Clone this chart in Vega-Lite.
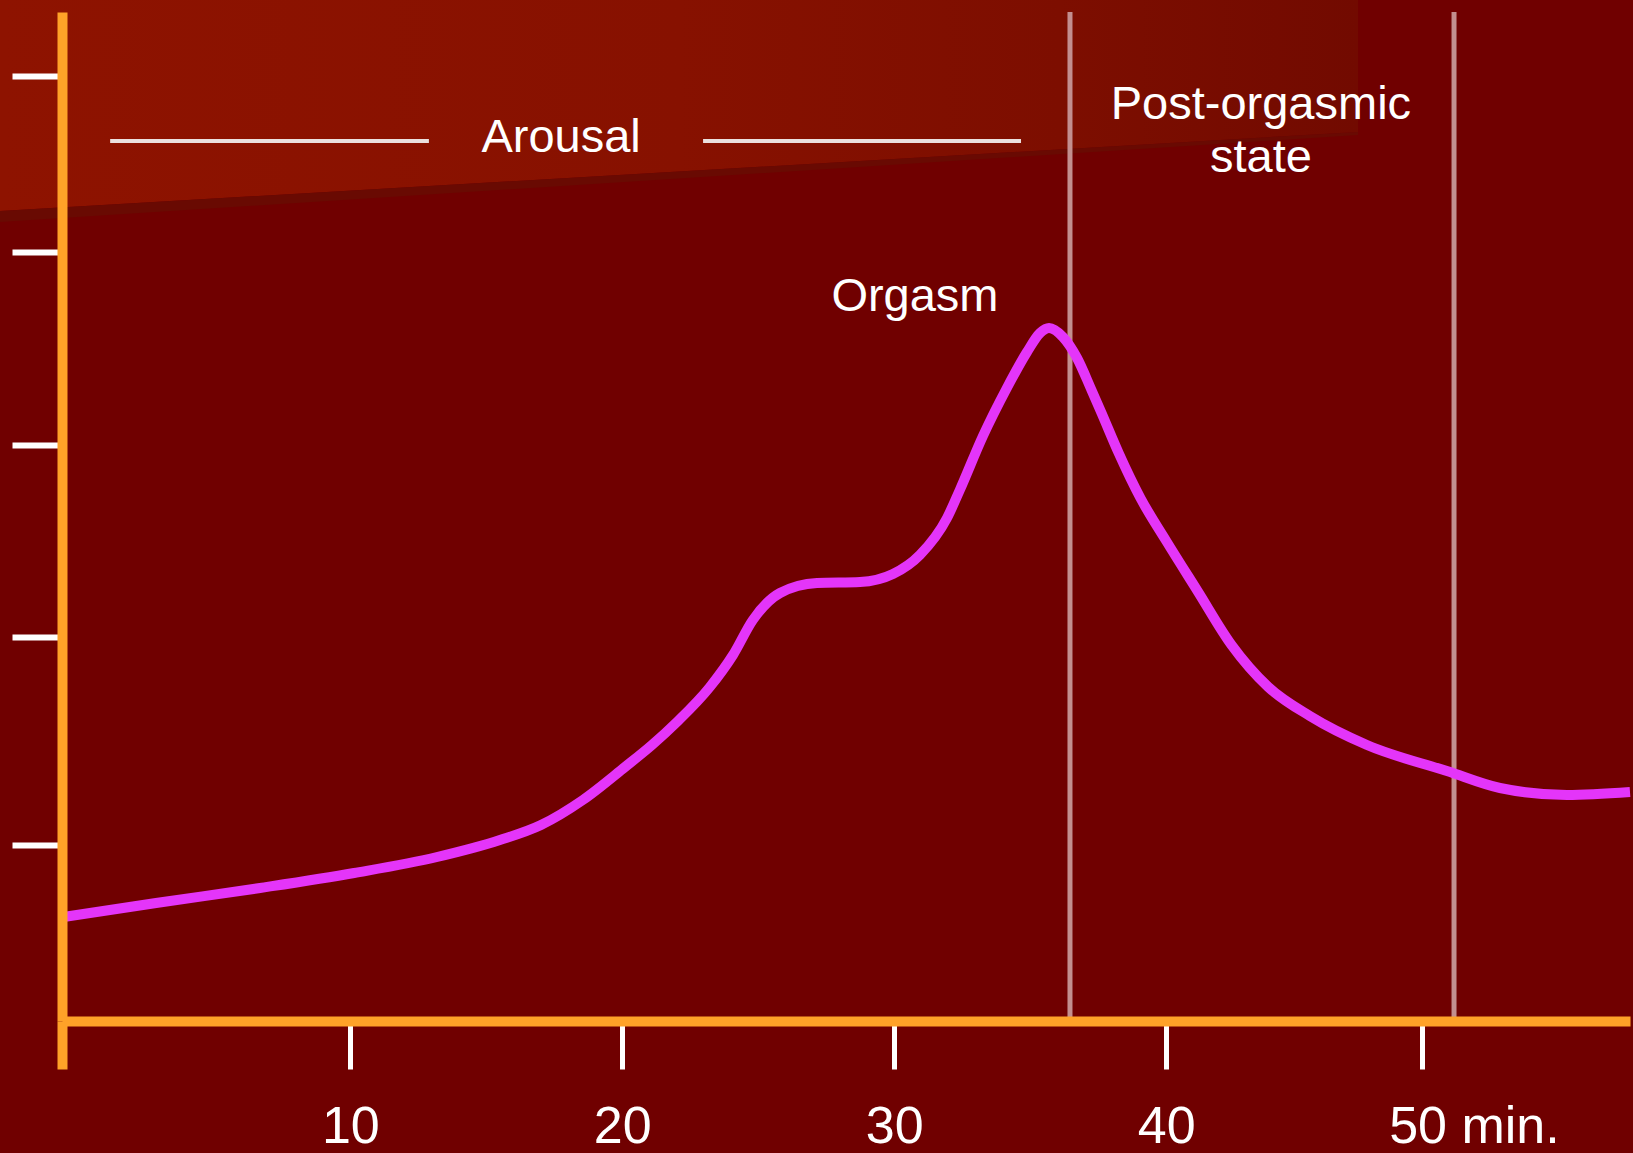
{
  "$schema": "https://vega.github.io/schema/vega-lite/v6.json",
  "width": 1568,
  "height": 1009,
  "autosize": {"type": "none"},
  "padding": {"left": 62, "top": 12, "right": 3, "bottom": 132},
  "background": "#700000",
  "view": {"stroke": null},
  "config": {"font": "Liberation Sans"},
  "datasets": {
    "band": [
      {"t": -2.88, "v": 102.2, "v2": 81.0},
      {"t": 47.05, "v": 102.2, "v2": 88.9}
    ],
    "shadow": [
      {"t": -2.88, "v": 81.0, "v2": 79.9},
      {"t": 47.05, "v": 88.9, "v2": 88.6}
    ],
    "phases": [
      {"t": 36.46, "v": 0, "v2": 100.9},
      {"t": 50.58, "v": 0, "v2": 100.9}
    ],
    "arousalLines": [
      {"t": 1.17, "t2": 12.89, "v": 88.0},
      {"t": 22.97, "t2": 34.66, "v": 88.0}
    ],
    "curve": [
      {"t": -0.53, "v": 10.4},
      {"t": 2.86, "v": 11.8},
      {"t": 6.68, "v": 13.3},
      {"t": 10.14, "v": 14.8},
      {"t": 13.19, "v": 16.4},
      {"t": 15.50, "v": 18.1},
      {"t": 17.01, "v": 19.6},
      {"t": 18.55, "v": 22.1},
      {"t": 20.10, "v": 25.4},
      {"t": 21.09, "v": 27.6},
      {"t": 22.01, "v": 29.9},
      {"t": 23.22, "v": 33.4},
      {"t": 24.07, "v": 36.6},
      {"t": 24.80, "v": 40.1},
      {"t": 25.80, "v": 42.8},
      {"t": 27.16, "v": 43.8},
      {"t": 28.74, "v": 43.9},
      {"t": 29.95, "v": 44.7},
      {"t": 30.94, "v": 46.6},
      {"t": 31.94, "v": 50.3},
      {"t": 32.41, "v": 53.1},
      {"t": 33.26, "v": 58.5},
      {"t": 34.14, "v": 63.3},
      {"t": 34.88, "v": 66.9},
      {"t": 35.36, "v": 68.8},
      {"t": 35.69, "v": 69.3},
      {"t": 36.20, "v": 68.4},
      {"t": 36.72, "v": 66.3},
      {"t": 37.25, "v": 63.1},
      {"t": 37.62, "v": 60.8},
      {"t": 38.25, "v": 56.8},
      {"t": 39.05, "v": 52.3},
      {"t": 40.00, "v": 48.0},
      {"t": 41.15, "v": 43.0},
      {"t": 42.40, "v": 37.6},
      {"t": 43.75, "v": 33.4},
      {"t": 45.28, "v": 30.5},
      {"t": 47.38, "v": 27.6},
      {"t": 50.32, "v": 25.0},
      {"t": 52.27, "v": 23.3},
      {"t": 54.73, "v": 22.6},
      {"t": 57.05, "v": 22.9}
    ],
    "labels": [
      {"t": 17.75, "v": 86.9, "text": "Arousal"},
      {"t": 43.48, "v": 90.2, "text": "Post-orgasmic"},
      {"t": 43.48, "v": 84.9, "text": "state"},
      {"t": 30.76, "v": 71.0, "text": "Orgasm"}
    ]
  },
  "encoding": {
    "x": {
      "field": "t", "type": "quantitative",
      "scale": {"domain": [-0.6, 57.05], "nice": false, "zero": false},
      "axis": {
        "values": [-0.6, 10, 20, 30, 40, 49.39],
        "labelExpr": "datum.value < 0 ? '' : (datum.value > 45 ? '50 min.' : datum.label)",
        "title": null,
        "grid": false,
        "zindex": 1,
        "domainColor": "#ffa228",
        "domainWidth": 10,
        "tickColor": {"condition": {"test": "datum.value < 0", "value": "#ffa228"}, "value": "#ffffff"},
        "tickWidth": {"condition": {"test": "datum.value < 0", "value": 10}, "value": 5},
        "tickSize": 48,
        "labelColor": "#ffffff",
        "labelFont": "Liberation Sans",
        "labelFontSize": 52,
        "labelBaseline": "alphabetic",
        "labelPadding": 73,
        "labelAlign": {"condition": {"test": "datum.value > 45", "value": "left"}, "value": "center"},
        "labelOffset": {"condition": {"test": "datum.value > 45", "value": -33}, "value": 0},
        "labelOverlap": false,
        "labelBound": false,
        "labelFlush": false
      }
    },
    "y": {
      "field": "v", "type": "quantitative",
      "scale": {"domain": [0, 100.9], "nice": false, "zero": false},
      "axis": {
        "values": [17.6, 38.4, 57.6, 76.9, 94.5],
        "labels": false,
        "title": null,
        "grid": false,
        "zindex": 1,
        "domainColor": "#ffa228",
        "domainWidth": 10,
        "tickColor": "#ffffff",
        "tickWidth": 6,
        "tickSize": 50
      }
    }
  },
  "layer": [
    {
      "data": {"name": "band"},
      "mark": {
        "type": "area",
        "clip": false,
        "color": {
          "gradient": "linear",
          "x1": 0, "y1": 0, "x2": 1, "y2": 0,
          "stops": [
            {"offset": 0, "color": "#8e1300"},
            {"offset": 0.5, "color": "#871100"},
            {"offset": 0.78, "color": "#7d0e00"},
            {"offset": 1, "color": "#720a00"}
          ]
        }
      },
      "encoding": {"y2": {"field": "v2"}}
    },
    {
      "data": {"name": "shadow"},
      "mark": {"type": "area", "clip": false, "color": "#690a02"},
      "encoding": {"y2": {"field": "v2"}}
    },
    {
      "data": {"name": "phases"},
      "mark": {"type": "rule", "color": "#c38f8f", "strokeWidth": 5},
      "encoding": {"y2": {"field": "v2"}}
    },
    {
      "data": {"name": "arousalLines"},
      "mark": {"type": "rule", "color": "#ebe0de", "strokeWidth": 4},
      "encoding": {"x2": {"field": "t2"}}
    },
    {
      "data": {"name": "curve"},
      "mark": {"type": "line", "color": "#e435f9", "strokeWidth": 10, "interpolate": "monotone", "clip": false},
      "encoding": {}
    },
    {
      "data": {"name": "labels"},
      "mark": {"type": "text", "color": "#ffffff", "fontSize": 47, "font": "Liberation Sans", "align": "center", "baseline": "alphabetic"},
      "encoding": {"text": {"field": "text"}}
    }
  ]
}
